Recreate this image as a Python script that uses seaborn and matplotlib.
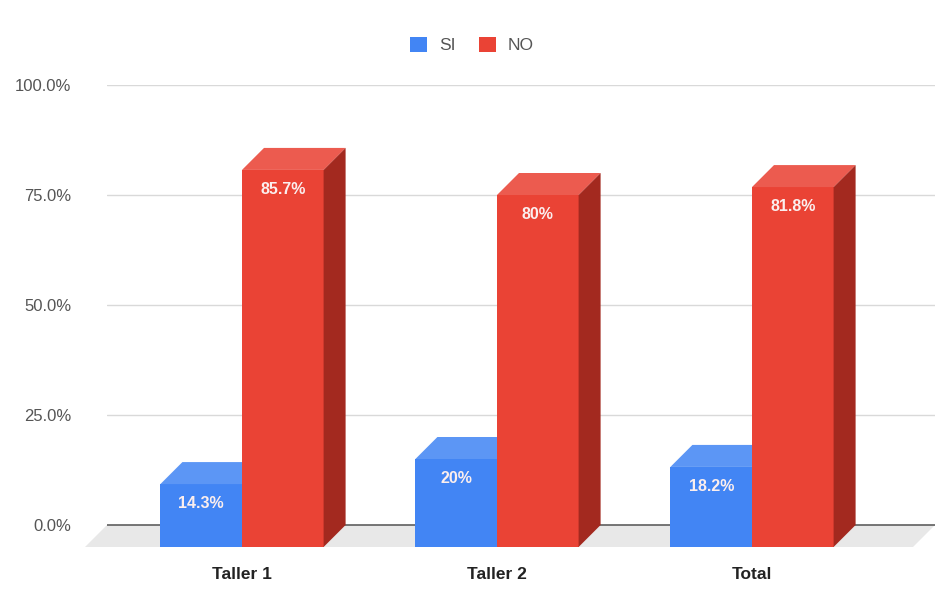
import matplotlib
matplotlib.use("Agg")
import matplotlib.pyplot as plt
from matplotlib.patches import Polygon, Patch
import seaborn as sns
import pandas as pd

categories = ["Taller 1", "Taller 2", "Total"]
series = ["SI", "NO"]
si_values = [14.3, 20.0, 18.2]
no_values = [85.7, 80.0, 81.8]
bar_labels_si = ["14.3%", "20%", "18.2%"]
bar_labels_no = ["85.7%", "80%", "81.8%"]
yticks = [0, 25, 50, 75, 100]
ytick_labels = ["0.0%", "25.0%", "50.0%", "75.0%", "100.0%"]

front_col = {"SI": "#4285F4", "NO": "#EA4335"}
top_col = {"SI": "#5C96F5", "NO": "#EC5B4F"}
side_col = {"SI": "#2A5FB8", "NO": "#A3291F"}

sns.set_theme(style="white")
plt.rcParams["font.family"] = ["Liberation Sans", "DejaVu Sans"]

df = pd.DataFrame({
    "cat": categories * 2,
    "resp": ["SI"] * 3 + ["NO"] * 3,
    "val": si_values + no_values,
})

W, H = 947, 612
fig = plt.figure(figsize=(W / 100, H / 100), dpi=100)
ax = fig.add_axes([107 / W, 65 / H, 828 / W, 462 / H])

sns.barplot(data=df, x="cat", y="val", hue="resp", hue_order=series,
            order=categories, palette=front_col, saturation=1, width=0.64,
            ax=ax, legend=False, errorbar=None)

# geometry of the pseudo-3D depth
px_per_x = 255.0
depth_x = 22 / px_per_x   # data units in x
depth_y = 5.0             # data units in y (22 px)

ax.set_xlim((107 - 242) / px_per_x, (935 - 242) / px_per_x)
ax.set_ylim(-depth_y, 100)

# floor
x_left, x_right = ax.get_xlim()
floor = Polygon([(x_left - depth_x, -depth_y), (x_right - depth_x, -depth_y),
                 (x_right, 0), (x_left, 0)], closed=True,
                facecolor="#e8e8e8", edgecolor="none", zorder=0.5, clip_on=False)
ax.add_patch(floor)

# gridlines
for t in yticks[1:]:
    ax.axhline(t, color="#d9d9d9", lw=1, zorder=0.4)
ax.axhline(0, color="#5f5f5f", lw=1.2, zorder=0.7)

labels = {"SI": bar_labels_si, "NO": bar_labels_no}
for s_idx, s in enumerate(series):
    cont = ax.containers[s_idx]
    for i, bar in enumerate(cont.patches):
        v = bar.get_height()
        x0 = bar.get_x()
        x1 = x0 + bar.get_width()
        z = 3 + s_idx
        bar.set_y(-depth_y)
        bar.set_zorder(z)
        bar.set_edgecolor("none")
        bar.set_clip_on(False)
        top = Polygon([(x0, v - depth_y), (x1, v - depth_y), (x1 + depth_x, v),
                       (x0 + depth_x, v)], closed=True, facecolor=top_col[s],
                      edgecolor="none", zorder=z, clip_on=False)
        side = Polygon([(x1, -depth_y), (x1 + depth_x, 0), (x1 + depth_x, v),
                        (x1, v - depth_y)], closed=True, facecolor=side_col[s],
                       edgecolor="none", zorder=z, clip_on=False)
        ax.add_patch(top)
        ax.add_patch(side)
        ax.annotate(labels[s][i], xy=((x0 + x1) / 2, v - depth_y),
                    xytext=(0, -14), textcoords="offset points",
                    ha="center", va="center", color="#fbeeee",
                    fontsize=11.5, fontweight="bold", zorder=10)

ax.set_yticks(yticks)
ax.set_yticklabels(ytick_labels, color="#555555", fontsize=12)
ax.tick_params(axis="y", length=0, pad=25.5)
ax.tick_params(axis="x", length=0, pad=14.5)
for lab in ax.get_xticklabels():
    lab.set_fontweight("bold")
    lab.set_fontsize(12.5)
    lab.set_color("#222222")
ax.set_xlabel("")
ax.set_ylabel("")
for sp in ax.spines.values():
    sp.set_visible(False)
ax.grid(False)

handles = [Patch(facecolor=front_col[s], edgecolor="none", label=s) for s in series]
fig.legend(handles=handles, loc="center", bbox_to_anchor=(472 / W, 1 - 45 / H),
           ncol=2, frameon=False, fontsize=12.5, handlelength=1.0, handleheight=1.0,
           columnspacing=1.3, handletextpad=0.7, labelcolor="#555555")

fig.savefig("out.png", dpi=100, facecolor="white")
